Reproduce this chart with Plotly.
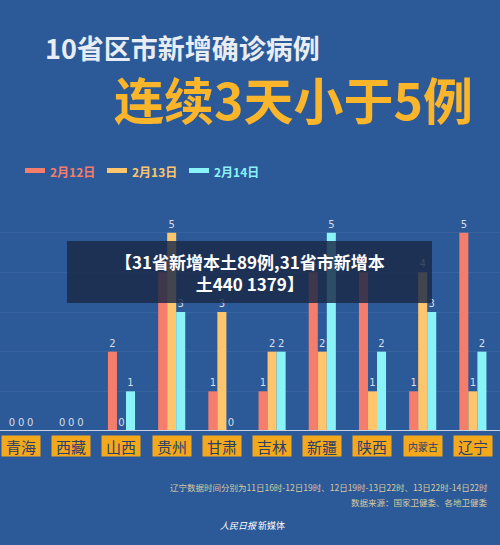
import plotly.graph_objects as go

provinces = ["青海", "西藏", "山西", "贵州", "甘肃", "吉林", "新疆", "陕西", "内蒙古", "辽宁"]
feb12 = [0, 0, 2, 4, 1, 1, 4, 4, 1, 5]
feb13 = [0, 0, 0, 5, 3, 2, 2, 1, 4, 1]
feb14 = [0, 0, 1, 3, 0, 2, 5, 2, 3, 2]
series_names = ["2月12日", "2月13日", "2月14日"]
colors = ["#f47d6c", "#fdc66e", "#8af3f8"]

BG = "#2c5a98"
FONT = "Noto Sans CJK SC"
W, H = 500, 545


def px(x):
    return x / W


def py(y):
    return 1 - y / H


fig = go.Figure()
for name, vals, col in zip(series_names, [feb12, feb13, feb14], colors):
    fig.add_bar(x=list(range(len(provinces))), y=vals, name=name, marker_color=col,
                marker_line_width=0, text=vals, textposition="outside",
                textfont=dict(color="#d8dde8", size=10, family="DejaVu Sans"),
                cliponaxis=False, showlegend=False)

# legend drawn by hand so each label gets its series colour
leg_x = [25, 107, 189]
for name, col, lx in zip(series_names, colors, leg_x):
    fig.add_shape(type="rect", xref="paper", yref="paper",
                  x0=px(lx), x1=px(lx + 20), y0=py(168), y1=py(173),
                  fillcolor=col, line_width=0)
    fig.add_annotation(x=px(lx + 23), y=py(171), xref="paper", yref="paper",
                       text="<b>" + name + "</b>", showarrow=False, xanchor="left", yanchor="middle",
                       font=dict(color=col, size=12, family=FONT))

# category boxes
for i, p in enumerate(provinces):
    fig.add_annotation(x=i, y=py(446), xref="x", yref="paper", text=p, yanchor="middle",
                       showarrow=False, bgcolor="#f4a81c", width=36, height=18,
                       font=dict(color="#2a3f6a", size=15 if len(p) == 2 else 10, family=FONT))

# baseline
fig.add_shape(type="line", xref="paper", yref="y", x0=0, x1=1, y0=0, y1=0,
              line=dict(color="#c9d3e6", width=2))

# titles
fig.add_annotation(x=px(43), y=py(47), xref="paper", yref="paper", yanchor="middle",
                   text="<b>10省区市新增确诊病例</b>", showarrow=False, xanchor="left",
                   font=dict(color="#e8ecf3", size=27, family=FONT))
fig.add_annotation(x=px(112), y=py(98), xref="paper", yref="paper", yanchor="middle",
                   text="<b>连续3天小于5例</b>", showarrow=False, xanchor="left",
                   font=dict(color="#fbb52a", size=50, family=FONT))

# overlay caption
fig.add_shape(type="rect", xref="paper", yref="paper", x0=px(67), x1=px(432),
              y0=py(303), y1=py(241), fillcolor="rgba(25,40,70,0.82)", line_width=0)
fig.add_annotation(x=px(250), y=py(272), xref="paper", yref="paper", yanchor="middle",
                   text="<b>【31省新增本土89例,31省市新增本<br>土440 1379】</b>", showarrow=False,
                   font=dict(color="white", size=17, family=FONT))

# footnotes
fig.add_annotation(x=px(490), y=py(487), xref="paper", yref="paper", xanchor="right", yanchor="middle",
                   text="辽宁数据时间分别为11日16时-12日19时、12日19时-13日22时、13日22时-14日22时",
                   showarrow=False, font=dict(color="#d9c9a0", size=8.5, family=FONT))
fig.add_annotation(x=px(490), y=py(502), xref="paper", yref="paper", xanchor="right", yanchor="middle",
                   text="数据来源：国家卫健委、各地卫健委",
                   showarrow=False, font=dict(color="#d9c9a0", size=8.5, family=FONT))
fig.add_annotation(x=px(252), y=py(525), xref="paper", yref="paper", yanchor="middle",
                   text="<i>人民日报</i> 新媒体", showarrow=False,
                   font=dict(color="white", size=9, family=FONT))

fig.update_layout(
    width=W, height=H, paper_bgcolor=BG, plot_bgcolor=BG,
    margin=dict(l=0, r=0, t=0, b=0),
    barmode="group", bargap=0.46, bargroupgap=0,
    xaxis=dict(range=[-0.42, 9.54], showticklabels=False, showgrid=False, zeroline=False),
    yaxis=dict(domain=[1 - 431 / H, 1 - 193 / H], range=[0, 6], showticklabels=False,
               showgrid=True, gridcolor="rgba(255,255,255,0.06)", zeroline=False, dtick=1),
)
fig.write_html("out.html", config={"displayModeBar": False},
               post_script="document.body.style.margin='0';")
